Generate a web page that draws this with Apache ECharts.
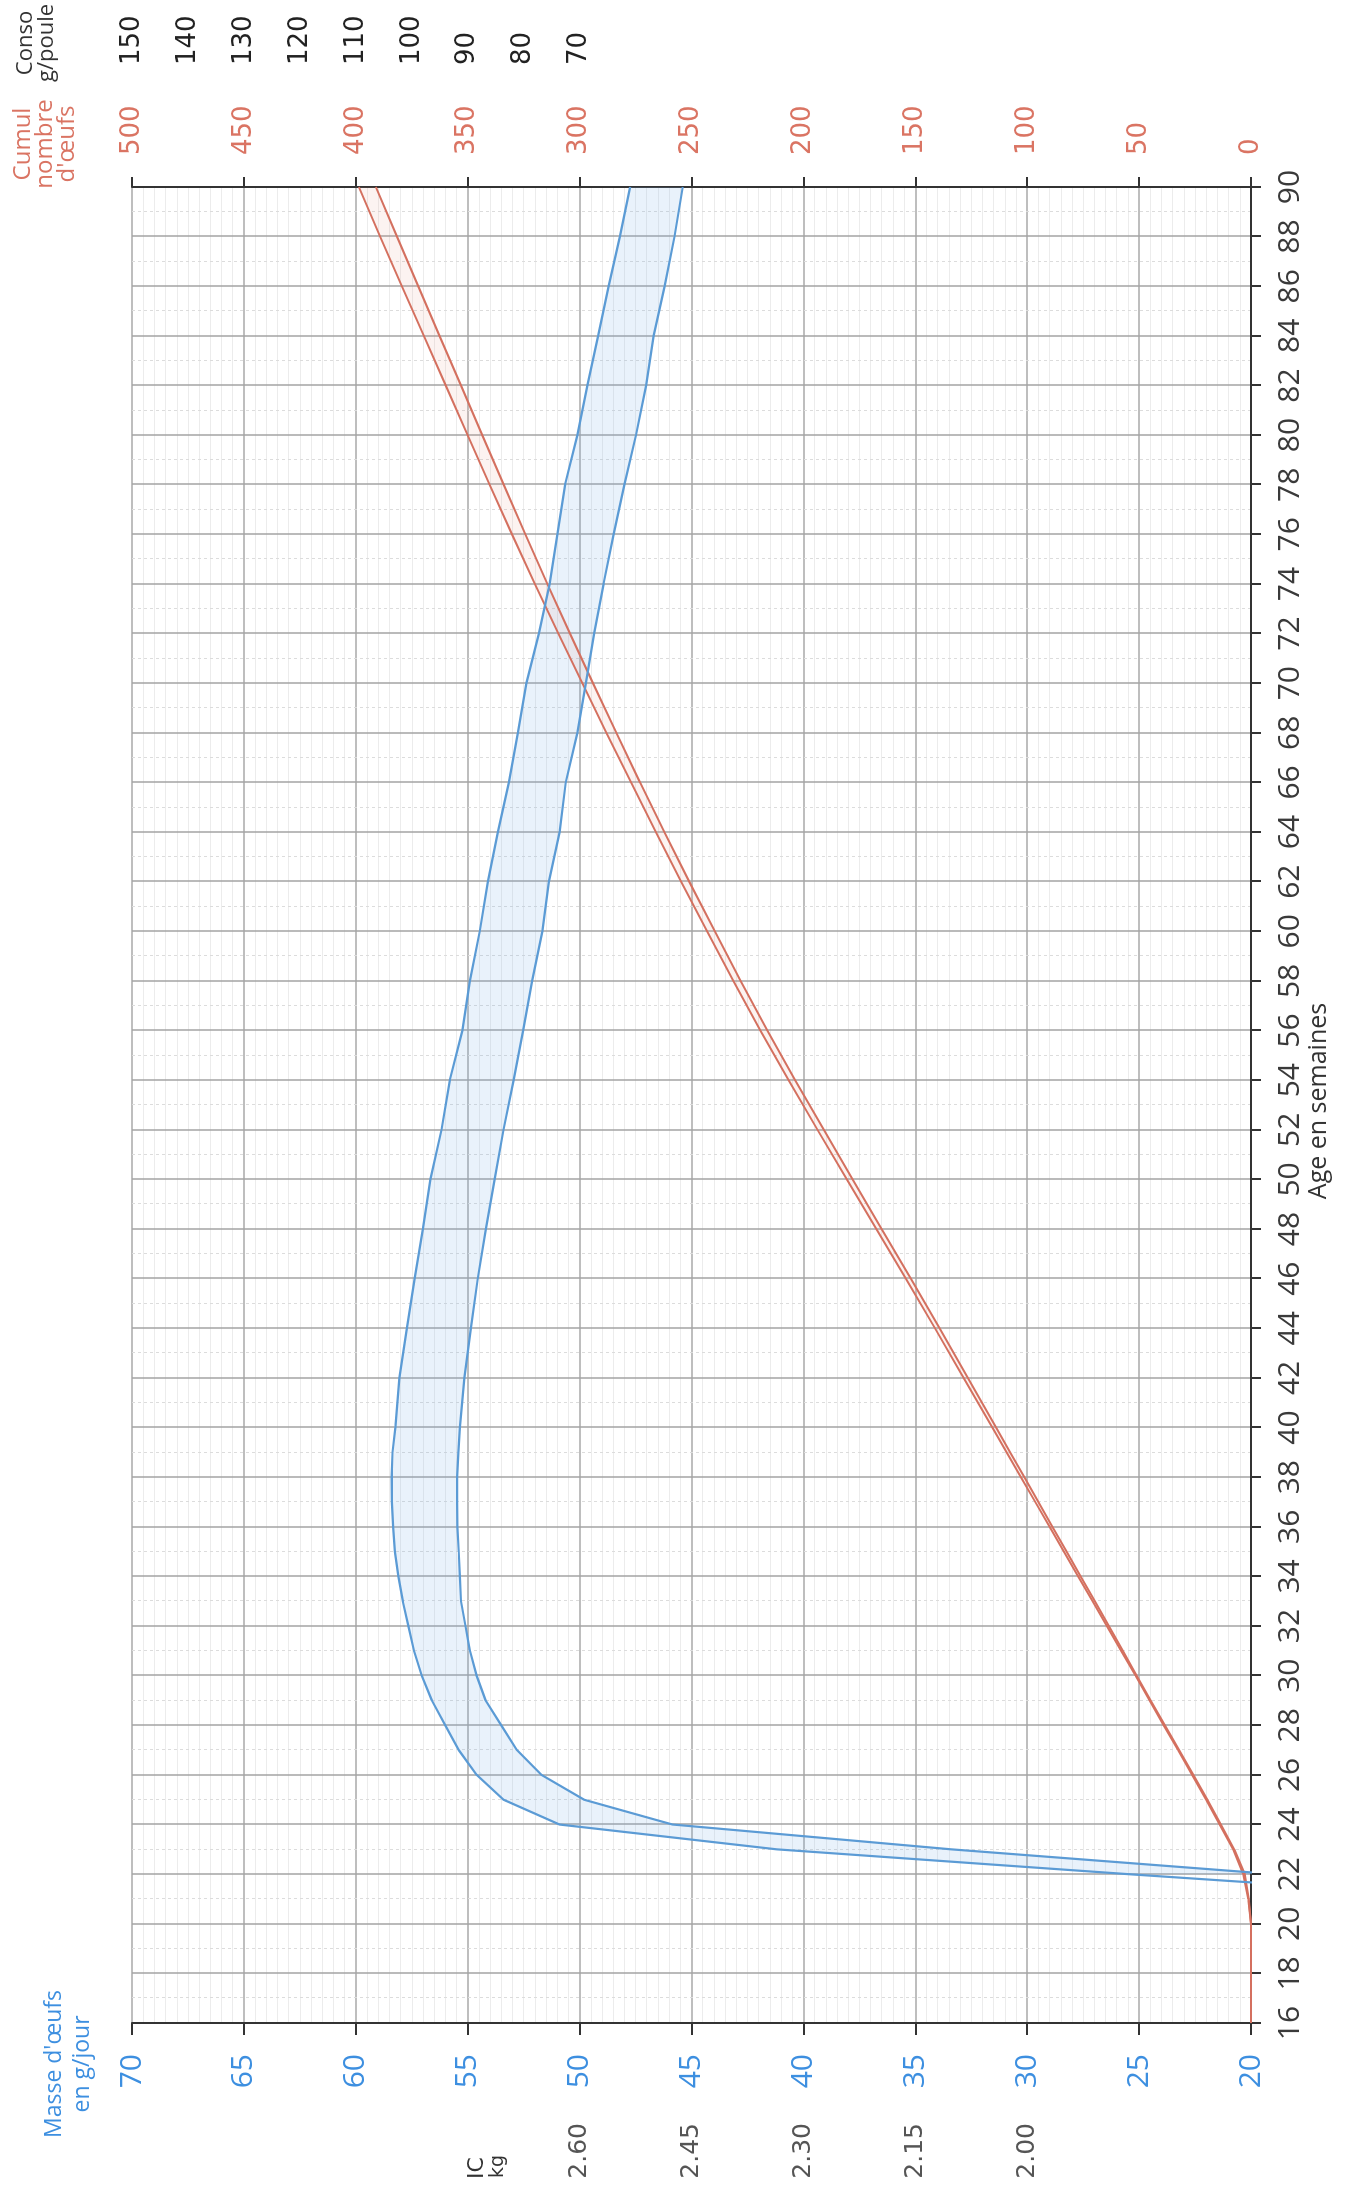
<!DOCTYPE html>
<html><head><meta charset="utf-8">
<script src="https://cdn.jsdelivr.net/npm/echarts@6/dist/echarts.min.js"></script>
<style>
html,body{margin:0;padding:0;width:1365px;height:2199px;overflow:hidden;background:#fff;}
#chart{position:absolute;left:0;top:0;width:2199px;height:1365px;transform-origin:0 0;transform:translateY(2199px) rotate(-90deg);}
</style></head><body><div id="chart"></div>
<script>
// Age in weeks (x)
const weeks = [16,17,18,19,20,21,22,23,24,25,26,27,28,29,30,31,32,33,34,35,36,37,38,39,40,
  42,44,46,48,50,52,54,56,58,60,62,64,66,68,70,72,74,76,78,80,82,84,86,88,90];
// Egg mass g/day, upper and lower curves
const masseHigh = [null,null,null,null,null,9,25.5,41.2,50.9,53.4,54.6,55.4,56.0,56.6,57.05,57.4,57.65,57.9,58.1,58.25,58.33,58.39,58.4,58.36,58.23,
  58.05,57.72,57.37,57.0,56.67,56.17,55.8,55.24,54.9,54.46,54.1,53.65,53.16,52.76,52.38,51.82,51.34,50.99,50.65,50.1,49.65,49.17,48.7,48.2,47.74];
const masseLow = [null,null,null,null,null,null,19.0,33.4,45.85,49.8,51.7,52.8,53.5,54.2,54.6,54.9,55.1,55.3,55.35,55.4,55.46,55.47,55.47,55.42,55.35,
  55.15,54.86,54.55,54.19,53.8,53.4,52.95,52.52,52.12,51.66,51.37,50.89,50.62,50.1,49.72,49.35,48.93,48.48,48.0,47.48,47.03,46.69,46.2,45.76,45.39];
// Cumulative eggs per hen, upper and lower curves
const cumulHigh = [0,0,0,0,0,1.2,3.5,8,14,20,26.3,32.6,39,45.3,51.6,58,64.4,70.8,77.2,83.6,90,96.4,102.8,109.2,115.6,
  128.4,141.2,154.2,167.4,180.6,193.7,206.6,219.2,231.3,243,254.6,265.9,277,288,298.8,309.5,320,330.2,340.2,350,359.8,369.6,379.4,389.1,398.6];
const cumulLow = [0,0,0,0,0,1.0,2.8,7.5,13.5,19.5,25.8,32.1,38.5,44.8,51.1,57.3,63.5,69.8,76.1,82.4,88.7,95,101.3,107.6,113.9,
  126.5,139.1,152,165,178,190.9,203.7,216.1,228,239.6,251,262.1,273,283.6,294,304.3,314.4,324.2,333.9,343.5,353,362.6,372.1,381.6,391];
// Tick labels
const icTickValues = [30,35,40,45,50];
const icLabels = ['2.00','2.15','2.30','2.45','2.60'];
const consoLabels = [70,80,90,100,110,120,130,140,150];

const BLUE = '#5b9bd5', BLUE_TXT = '#3d8fe0', RED = '#d4705f', RED_TXT = '#da7463';
const F_NUM = "'Open Sans', sans-serif", F_TOP = "'DejaVu Sans', sans-serif";
const pairs = arr => weeks.map((w, i) => [w, arr[i]]);

// Band between two curves, drawn as one polygon through the axis scales
function band(hi, lo, yAxisIndex, color) {
  const rows = weeks.map((w, i) => [w, hi[i], lo[i]]).filter(r => r[1] != null && r[2] != null);
  return {
    type: 'custom', yAxisIndex: yAxisIndex, silent: true, z: 1,
    data: rows, encode: {x: 0, y: [1, 2]},
    renderItem: (params, api) => {
      if (params.dataIndex !== 0) return null;
      const top = rows.map(r => api.coord([r[0], r[1]]));
      const bot = rows.map(r => api.coord([r[0], r[2]])).reverse();
      const cs = params.coordSys;
      return {
        type: 'polygon', shape: {points: top.concat(bot)}, style: {fill: color},
        clipPath: {type: 'rect', shape: {x: cs.x, y: cs.y, width: cs.width, height: cs.height}}
      };
    }
  };
}

const chart = echarts.init(document.getElementById('chart'), null, {width: 2199, height: 1365});
chart.setOption({
  animation: false,
  backgroundColor: '#fff',
  grid: {left: 176, right: 187, top: 132, bottom: 114},
  xAxis: {
    type: 'value', min: 16, max: 90, interval: 2,
    axisLine: {show: true, onZero: false, lineStyle: {color: '#333', width: 2}},
    axisTick: {show: true, length: 10, lineStyle: {color: '#333', width: 2}},
    axisLabel: {fontFamily: F_NUM, fontSize: 30, color: '#3a3a3a', margin: 24},
    splitLine: {show: true, lineStyle: {color: '#a3a3a3', width: 1.5}},
    minorTick: {show: false, splitNumber: 2},
    minorSplitLine: {show: true, lineStyle: {color: '#dcdcdc', width: 1, type: [3, 3]}}
  },
  yAxis: [
    {
      type: 'value', position: 'left', min: 20, max: 70, interval: 5,
      axisLine: {show: true, onZero: false, lineStyle: {color: '#333', width: 2}},
      axisTick: {show: true, length: 12, lineStyle: {color: '#333', width: 2}},
      axisLabel: {fontFamily: F_NUM, fontSize: 30, color: BLUE_TXT, margin: 31},
      splitLine: {show: true, lineStyle: {color: '#a8a8a8', width: 1.5}},
      minorTick: {show: false, splitNumber: 10},
      minorSplitLine: {show: true, lineStyle: {color: '#ececec', width: 1}}
    },
    {
      type: 'value', position: 'left', offset: 68, min: 20, max: 70, interval: 5,
      axisLine: {show: false}, axisTick: {show: false}, splitLine: {show: false},
      axisLabel: {fontFamily: F_TOP, fontSize: 25, color: '#555', margin: 32,
        formatter: v => { const i = icTickValues.indexOf(Math.round(v)); return i >= 0 ? icLabels[i] : ''; }}
    },
    {
      type: 'value', position: 'right', min: 0, max: 500, interval: 50,
      axisLine: {show: true, onZero: false, lineStyle: {color: '#333', width: 2}},
      axisTick: {show: true, length: 10, lineStyle: {color: '#333', width: 2}},
      axisLabel: {fontFamily: F_TOP, fontSize: 26, color: RED_TXT, margin: 32},
      splitLine: {show: false}
    },
    {
      type: 'value', position: 'right', offset: 90, min: -50, max: 150, interval: 10,
      axisLine: {show: false}, axisTick: {show: false}, splitLine: {show: false},
      axisLabel: {fontFamily: F_TOP, fontSize: 26, color: '#222', margin: 32,
        formatter: v => consoLabels.indexOf(Math.round(v)) >= 0 ? String(Math.round(v)) : ''}
    }
  ],
  graphic: [
    {type: 'text', x: 135, y: 40, style: {text: "Masse d'œufs\nen g/jour", fill: BLUE_TXT, fontFamily: F_NUM, fontSize: 23, lineHeight: 28, align: 'center', verticalAlign: 'top'}},
    {type: 'text', x: 20, y: 466, style: {text: 'IC', fill: '#333', fontFamily: F_TOP, fontSize: 22, align: 'left', verticalAlign: 'top'}},
    {type: 'text', x: 21, y: 489, style: {text: 'kg', fill: '#333', fontFamily: F_TOP, fontSize: 19, align: 'left', verticalAlign: 'top'}},
    {type: 'text', x: 1098, y: 1306, style: {text: 'Age en semaines', fill: '#333', fontFamily: F_NUM, fontSize: 25, align: 'center', verticalAlign: 'top'}},
    {type: 'text', x: 2055, y: 12, style: {text: "Cumul\nnombre\nd'œufs", fill: RED_TXT, fontFamily: F_NUM, fontSize: 24, lineHeight: 22, align: 'center', verticalAlign: 'top'}},
    {type: 'text', x: 2156, y: 15, style: {text: 'Conso\ng/poule', fill: '#333', fontFamily: F_NUM, fontSize: 22, lineHeight: 21, align: 'center', verticalAlign: 'top'}}
  ],
  series: [
    band(masseHigh, masseLow, 0, 'rgba(120,175,230,0.16)'),
    band(cumulHigh, cumulLow, 2, 'rgba(230,140,120,0.10)'),
    {type: 'line', yAxisIndex: 0, data: pairs(masseHigh), showSymbol: false, lineStyle: {color: BLUE, width: 2.2}, z: 4},
    {type: 'line', yAxisIndex: 0, data: pairs(masseLow), showSymbol: false, lineStyle: {color: BLUE, width: 2.2}, z: 4},
    {type: 'line', yAxisIndex: 2, data: pairs(cumulHigh), showSymbol: false, lineStyle: {color: RED, width: 2}, z: 3},
    {type: 'line', yAxisIndex: 2, data: pairs(cumulLow), showSymbol: false, lineStyle: {color: RED, width: 2}, z: 3}
  ]
});
</script></body></html>
